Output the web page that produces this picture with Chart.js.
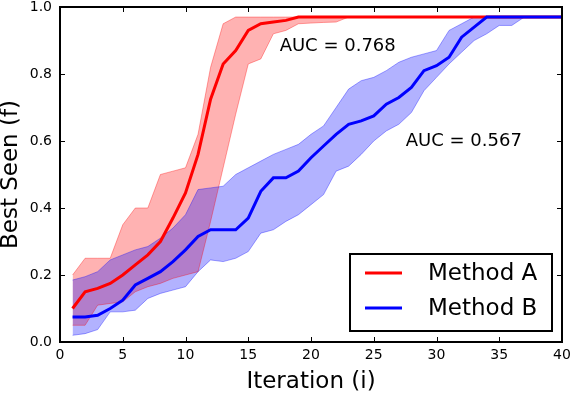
<!DOCTYPE html>
<html>
<head>
<meta charset="utf-8">
<script src="https://cdn.jsdelivr.net/npm/chart.js@4/dist/chart.umd.min.js"></script>
<style>
  html, body { margin: 0; padding: 0; background: #fff; }
  #wrap { width: 572px; height: 394px; position: relative; }
</style>
</head>
<body>
<div id="wrap"><canvas id="c" width="572" height="394"></canvas></div>
<script>
// ---- data ----
const iterations = [1,2,3,4,5,6,7,8,9,10,11,12,13,14,15,16,17,18,19,20,21,22,23,24,25,26,27,28,29,30,31,32,33,34,35,36,37,38,39,40];

const methodAMean  = [0.10,0.15,0.16,0.175,0.20,0.23,0.26,0.30,0.37,0.445,0.56,0.725,0.83,0.87,0.93,0.95,0.955,0.96,0.97,0.97,0.97,0.97,0.97,0.97,0.97,0.97,0.97,0.97,0.97,0.97,0.97,0.97,0.97,0.97,0.97,0.97,0.97,0.97,0.97,0.97];
const methodAUpper = [0.20,0.25,0.25,0.25,0.35,0.40,0.40,0.50,0.51,0.52,0.62,0.82,0.95,0.97,0.97,0.97,0.97,0.97,0.97,0.97,0.97,0.97,0.97,0.97,0.97,0.97,0.97,0.97,0.97,0.97,0.97,0.97,0.97,0.97,0.97,0.97,0.97,0.97,0.97,0.97];
const methodALower = [0.05,0.05,0.11,0.115,0.12,0.15,0.165,0.175,0.19,0.20,0.21,0.36,0.52,0.68,0.83,0.845,0.92,0.93,0.95,0.952,0.954,0.955,0.97,0.97,0.97,0.97,0.97,0.97,0.97,0.97,0.97,0.97,0.97,0.97,0.97,0.97,0.97,0.97,0.97,0.97];

const methodBMean  = [0.075,0.075,0.08,0.10,0.125,0.17,0.19,0.21,0.24,0.275,0.315,0.335,0.335,0.335,0.37,0.45,0.49,0.49,0.51,0.55,0.585,0.62,0.65,0.66,0.675,0.71,0.73,0.76,0.81,0.825,0.85,0.91,0.94,0.97,0.97,0.97,0.97,0.97,0.97,0.97];
const methodBUpper = [0.185,0.195,0.21,0.245,0.26,0.275,0.285,0.31,0.34,0.38,0.455,0.46,0.465,0.50,0.52,0.54,0.56,0.575,0.59,0.62,0.645,0.70,0.755,0.78,0.79,0.81,0.835,0.85,0.86,0.87,0.93,0.95,0.97,0.97,0.97,0.97,0.97,0.97,0.97,0.97];
const methodBLower = [0.02,0.025,0.037,0.09,0.09,0.095,0.13,0.145,0.155,0.165,0.21,0.245,0.24,0.25,0.27,0.325,0.335,0.36,0.38,0.41,0.44,0.51,0.525,0.56,0.60,0.63,0.65,0.685,0.75,0.79,0.83,0.865,0.90,0.92,0.945,0.945,0.97,0.97,0.97,0.97];

const seriesNames = ['Method A', 'Method B'];
const aucLabels = ['AUC = 0.768', 'AUC = 0.567'];
const aucAnchors = [[17.5, 0.882], [27.55, 0.599]]; // x, y (data units) of text left/middle

const xTickStep = 5;
const yTickStep = 0.2;

// ---- helpers ----
const FONT = '"DejaVu Sans", "Liberation Sans", sans-serif';
const pts = arr => arr.map((v, i) => ({ x: iterations[i], y: v }));

const RED = '#ff0000', BLUE = '#0000ff';
const RED_FILL = 'rgba(255,0,0,0.30)', BLUE_FILL = 'rgba(0,0,255,0.30)';
const RED_EDGE = 'rgba(255,0,0,0.35)', BLUE_EDGE = 'rgba(0,0,255,0.35)';

const frameAndTicks = {
  id: 'frameAndTicks',
  afterDraw(chart) {
    const { ctx, chartArea: a, scales } = chart;
    ctx.save();
    ctx.strokeStyle = '#000';
    ctx.lineWidth = 1;
    const L = 5;
    ctx.beginPath();
    scales.x.ticks.forEach(t => {
      const px = Math.round(scales.x.getPixelForValue(t.value)) + 0.5;
      ctx.moveTo(px, a.bottom); ctx.lineTo(px, a.bottom - L);
      ctx.moveTo(px, a.top); ctx.lineTo(px, a.top + L);
    });
    scales.y.ticks.forEach(t => {
      const py = Math.round(scales.y.getPixelForValue(t.value)) + 0.5;
      ctx.moveTo(a.left, py); ctx.lineTo(a.left + L, py);
      ctx.moveTo(a.right, py); ctx.lineTo(a.right - L, py);
    });
    ctx.stroke();
    ctx.lineWidth = 2;
    ctx.strokeRect(a.left, a.top, a.right - a.left, a.bottom - a.top);

    // AUC annotations
    ctx.fillStyle = '#000';
    ctx.font = '18px ' + FONT;
    ctx.textBaseline = 'middle';
    ctx.textAlign = 'left';
    aucLabels.forEach((s, i) => {
      ctx.fillText(s, scales.x.getPixelForValue(aucAnchors[i][0]), scales.y.getPixelForValue(aucAnchors[i][1]));
    });

    // legend
    const bw = 202, bh = 77;
    const bx = a.right - 10 - bw, by = a.bottom - 11 - bh;
    ctx.fillStyle = '#fff';
    ctx.fillRect(bx, by, bw, bh);
    ctx.lineWidth = 2;
    ctx.strokeStyle = '#000';
    ctx.strokeRect(bx, by, bw, bh);
    const colors = [RED, BLUE];
    const rows = [19, 54];
    ctx.font = '23px ' + FONT;
    seriesNames.forEach((n, i) => {
      ctx.strokeStyle = colors[i];
      ctx.lineWidth = 3;
      ctx.beginPath();
      ctx.moveTo(bx + 15, by + rows[i]);
      ctx.lineTo(bx + 52, by + rows[i]);
      ctx.stroke();
      ctx.fillStyle = '#000';
      ctx.fillText(n, bx + 78, by + rows[i] + 1);
    });
    ctx.restore();
  }
};

new Chart(document.getElementById('c'), {
  type: 'line',
  data: {
    datasets: [
      { label: 'A upper', data: pts(methodAUpper), fill: '+1', backgroundColor: RED_FILL, borderColor: RED_EDGE, borderWidth: 1, pointRadius: 0, order: 5 },
      { label: 'A lower', data: pts(methodALower), fill: false, borderColor: RED_EDGE, borderWidth: 1, pointRadius: 0, order: 4 },
      { label: 'B upper', data: pts(methodBUpper), fill: '+1', backgroundColor: BLUE_FILL, borderColor: BLUE_EDGE, borderWidth: 1, pointRadius: 0, order: 3 },
      { label: 'B lower', data: pts(methodBLower), fill: false, borderColor: BLUE_EDGE, borderWidth: 1, pointRadius: 0, order: 2 },
      { label: seriesNames[0], data: pts(methodAMean), fill: false, borderColor: RED, borderWidth: 3, pointRadius: 0, order: 1 },
      { label: seriesNames[1], data: pts(methodBMean), fill: false, borderColor: BLUE, borderWidth: 3, pointRadius: 0, order: 0 }
    ]
  },
  options: {
    responsive: false,
    animation: false,
    events: [],
    layout: { padding: { top: 7, right: 10, left: 0, bottom: 0 } },
    elements: { line: { tension: 0 } },
    plugins: {
      legend: { display: false },
      tooltip: { enabled: false },
      filler: { drawTime: 'beforeDatasetsDraw' }
    },
    scales: {
      x: {
        type: 'linear', min: 0, max: 40,
        grid: { display: false, drawTicks: false },
        border: { display: false },
        ticks: { stepSize: xTickStep, color: '#000', font: { family: FONT, size: 14 }, padding: 5, maxRotation: 0 },
        title: { display: true, text: 'Iteration (i)', color: '#000', font: { family: FONT, size: 23, lineHeight: 1 }, padding: 0 },
        afterFit(s) { s.height = 52; s.paddingLeft = 0; s.paddingRight = 0; }
      },
      y: {
        type: 'linear', min: 0, max: 1,
        grid: { display: false, drawTicks: false },
        border: { display: false },
        ticks: { stepSize: yTickStep, color: '#000', font: { family: FONT, size: 14 }, padding: 8, callback: v => v.toFixed(1) },
        title: { display: true, text: 'Best Seen (f)', color: '#000', font: { family: FONT, size: 23, lineHeight: 1 }, padding: 0 },
        afterFit(s) { s.width = 60; s.paddingTop = 0; s.paddingBottom = 0; }
      }
    }
  },
  plugins: [frameAndTicks]
});
</script>
</body>
</html>
